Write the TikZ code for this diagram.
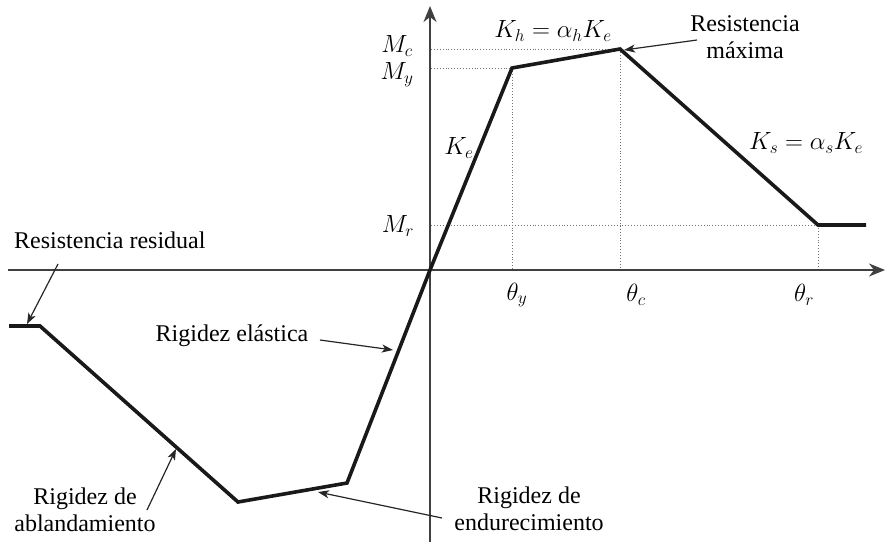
\documentclass[tikz,border=0pt]{standalone}
\usepackage{fontspec}
\setmainfont{Liberation Serif}
\usetikzlibrary{arrows.meta}
\begin{document}
\begin{tikzpicture}[x=1pt,y=-1pt,
  lbl/.style={font=\fontsize{24}{28}\selectfont, inner sep=0pt, align=center},
  mlbl/.style={font=\fontsize{27}{30}\selectfont, inner sep=0pt},
  axis/.style={line width=1.6pt, color=black!75, -{Stealth[length=16pt,width=13pt,inset=5pt]}},
  guide/.style={line width=0.9pt, color=black!55, dotted},
  curve/.style={line width=3.6pt, line join=miter, color=black!90},
  ann/.style={line width=1.2pt, color=black!85, -{Stealth[length=11pt,width=8pt,inset=3pt]}}]
\useasboundingbox (0,0) rectangle (886,542);
% key points
\coordinate (O) at (430,270);
\coordinate (Y) at (512,68);
\coordinate (C) at (620,49);
\coordinate (R) at (818,225);
\coordinate (Rend) at (866,225);
\coordinate (Yn) at (347,483);
\coordinate (Cn) at (238,502);
\coordinate (Rn) at (40,326);
\coordinate (Rnend) at (9,326);
\coordinate (ax0) at (8,270);
\coordinate (ax1) at (885,270);
\coordinate (ay0) at (430,542);
\coordinate (ay1) at (430,6);
\coordinate (Yx) at (512,270);
\coordinate (Cx) at (620,270);
\coordinate (Rx) at (818,270);
\coordinate (Yy) at (431,68);
\coordinate (Cy) at (431,49);
\coordinate (Ry) at (431,225);
% guides
\draw[guide] (Cy) -- (C);
\draw[guide] (Yy) -- (Y);
\draw[guide] (Ry) -- (R);
\draw[guide] (Y) -- (Yx);
\draw[guide] (C) -- (Cx);
\draw[guide] (R) -- (Rx);
% axes
\draw[axis] (ax0) -- (ax1);
\draw[axis] (ay0) -- (ay1);
% backbone
\draw[curve] (Rend) -- (R) -- (C) -- (Y) -- (O) -- (Yn) -- (Cn) -- (Rn) -- (Rnend);
% axis labels
\node[mlbl] (Mc) at (397,46) {$M_c$};
\node[mlbl] (My) at (397,75) {$M_y$};
\node[mlbl] (Mr) at (398,226) {$M_r$};
\node[mlbl] (ty) at (517,295) {$\theta_y$};
\node[mlbl] (tc) at (636,295) {$\theta_c$};
\node[mlbl] (tr) at (804,295) {$\theta_r$};
\node[mlbl] (Kh) at (553,31) {$K_h=\alpha_h K_e$};
\node[mlbl] (Ks) at (806,143) {$K_s=\alpha_s K_e$};
\node[mlbl] (Ke) at (459,148) {$K_e$};
% text labels
\node[lbl] (rmax) at (745,37) {Resistencia\\[-1pt]máxima};
\node[lbl, anchor=west] (rres) at (14,240) {Resistencia residual};
\node[lbl] (rel) at (232,336) {Rigidez elástica};
\node[lbl] (rabl) at (85,510) {Rigidez de\\[-1pt]ablandamiento};
\node[lbl] (rend) at (529,509) {Rigidez de\\[-1pt]endurecimiento};
% annotation arrows
\coordinate (a1s) at (697,40);  \coordinate (a1e) at (624,50);
\coordinate (a2s) at (58,264);  \coordinate (a2e) at (27,324);
\coordinate (a3s) at (320,340); \coordinate (a3e) at (393,350);
\coordinate (a4s) at (147,510); \coordinate (a4e) at (176,449);
\coordinate (a5s) at (442,518); \coordinate (a5e) at (318,492);
\draw[ann] (a1s) -- (a1e);
\draw[ann] (a2s) -- (a2e);
\draw[ann] (a3s) -- (a3e);
\draw[ann] (a4s) -- (a4e);
\draw[ann] (a5s) -- (a5e);
\end{tikzpicture}
\end{document}
